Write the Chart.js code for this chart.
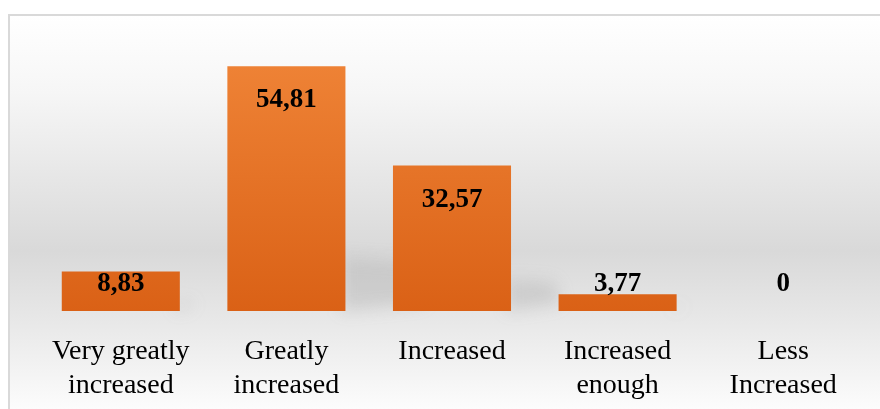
<!DOCTYPE html>
<html>
<head>
<meta charset="utf-8">
<script src="https://cdn.jsdelivr.net/npm/chart.js@4"></script>
<style>
  html, body { margin: 0; padding: 0; background: #fff; }
  #wrap { width: 880px; height: 409px; }
</style>
</head>
<body>
<div id="wrap"><canvas id="myChart" width="880" height="409"></canvas></div>
<script>
const categories = [
  ['Very greatly', 'increased'],
  ['Greatly', 'increased'],
  'Increased',
  ['Increased', 'enough'],
  ['Less', 'Increased']
];
const values = [8.83, 54.81, 32.57, 3.77, 0];
const valueLabels = ['8,83', '54,81', '32,57', '3,77', '0'];

// panel background + left/top border
const backdrop = {
  id: 'backdrop',
  beforeDraw(chart) {
    const ctx = chart.ctx;
    ctx.save();
    ctx.fillStyle = '#ffffff';
    ctx.fillRect(0, 0, chart.width, chart.height);
    const g = ctx.createLinearGradient(0, 14, 0, chart.height);
    g.addColorStop(0, '#ffffff');
    g.addColorStop(0.2, '#f6f6f6');
    g.addColorStop(0.6, '#d9d9d9');
    g.addColorStop(0.78, '#e8e8e8');
    g.addColorStop(1, '#fcfcfc');
    ctx.fillStyle = g;
    ctx.fillRect(8, 14, chart.width - 8, chart.height - 14);
    ctx.strokeStyle = '#d9d9d9';
    ctx.lineWidth = 2;
    ctx.beginPath();
    ctx.moveTo(9, chart.height);
    ctx.lineTo(9, 15);
    ctx.lineTo(chart.width, 15);
    ctx.stroke();
    ctx.restore();
  }
};

// soft perspective shadows to the right of each bar
const barShadows = {
  id: 'barShadows',
  beforeDatasetsDraw(chart) {
    const ctx = chart.ctx;
    const meta = chart.getDatasetMeta(0);
    ctx.save();
    ctx.filter = 'blur(8px)';
    ctx.fillStyle = 'rgba(130,130,130,0.22)';
    meta.data.forEach(bar => {
      const h = bar.base - bar.y;
      if (h < 1) return;
      const r = bar.x + bar.width / 2;
      ctx.beginPath();
      ctx.moveTo(r - 4, bar.base);
      ctx.lineTo(r - 4, bar.base - h * 0.22);
      ctx.lineTo(r + h * 0.3, bar.base - h * 0.2);
      ctx.lineTo(r + h * 0.3 + 6, bar.base - 8);
      ctx.closePath();
      ctx.fill();
    });
    ctx.restore();
  }
};

// value labels: inside the top of tall bars, above short ones
const valueText = {
  id: 'valueText',
  afterDatasetsDraw(chart) {
    const ctx = chart.ctx;
    const meta = chart.getDatasetMeta(0);
    ctx.save();
    ctx.font = 'bold 27px "Liberation Serif", serif';
    ctx.fillStyle = '#000';
    ctx.textAlign = 'center';
    ctx.textBaseline = 'alphabetic';
    meta.data.forEach((bar, i) => {
      const y = Math.min(bar.y + 41, bar.base - 20);
      ctx.fillText(valueLabels[i], bar.x, y);
    });
    ctx.restore();
  }
};

const data = {
  labels: categories,
  datasets: [{
    data: values,
    backgroundColor: (c) => {
      const area = c.chart.chartArea;
      if (!area) return '#ED7D31';
      const el = c.element;
      const top = el && el.y !== undefined ? el.y : area.top;
      const base = el && el.base !== undefined ? el.base : area.bottom;
      if (base - top < 1) return '#ED7D31';
      const g = c.chart.ctx.createLinearGradient(0, top, 0, base);
      g.addColorStop(0, '#f08538');
      g.addColorStop(1, '#da6116');
      return g;
    },
    borderWidth: 0,
    barPercentage: 0.713,
    categoryPercentage: 1
  }]
};

const config = {
  type: 'bar',
  data: data,
  options: {
    responsive: false,
    animation: false,
    layout: { padding: { left: 38, right: 14, top: 43, bottom: 0 } },
    plugins: { legend: { display: false }, tooltip: { enabled: false } },
    scales: {
      y: { display: false, min: 0, max: 60 },
      x: {
        grid: { display: false },
        border: { display: false },
        ticks: {
          color: '#000',
          padding: 16,
          maxRotation: 0,
          autoSkip: false,
          font: { family: '"Liberation Serif", serif', size: 28, lineHeight: 1.21 }
        },
        afterFit(scale) { scale.height = 98; }
      }
    }
  },
  plugins: [backdrop, barShadows, valueText]
};

const myChart = new Chart(document.getElementById('myChart'), config);
</script>
</body>
</html>
